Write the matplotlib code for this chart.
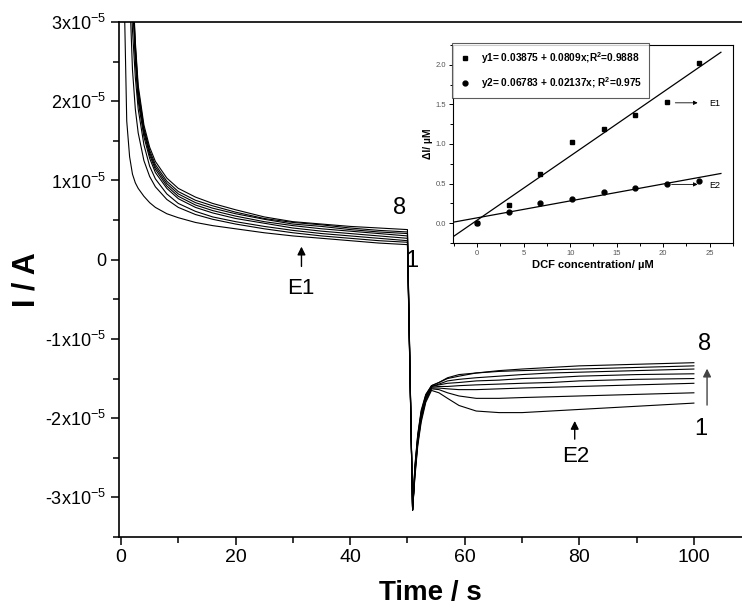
import matplotlib
matplotlib.use("Agg")
import matplotlib.pyplot as plt
from matplotlib.ticker import MultipleLocator, FuncFormatter, FixedLocator

plt.rcParams['font.family'] = ['Liberation Sans', 'DejaVu Sans']
plt.rcParams['mathtext.fontset'] = 'custom'
plt.rcParams['mathtext.rm'] = 'Liberation Sans'
plt.rcParams['axes.unicode_minus'] = False

# ---------------- main chronoamperograms (current in units of 1e-5 A) -------------
time_s = [0.3, 0.6, 1.0, 1.5, 2.0, 2.5, 3.0, 4.0, 5.0, 6.0, 8.0, 10.0, 13.0, 16.0,
          20.0, 25.0, 30.0, 35.0, 40.0, 45.0, 50.0,
          50.9, 51.3, 51.8, 52.4, 53.2, 54.2, 55.5, 57.0, 59.0, 62.0, 66.0, 70.0,
          75.0, 80.0, 85.0, 90.0, 95.0, 100.0]

curve_1 = [8.0, 3.2, 1.75, 1.3, 1.08, 0.97, 0.90, 0.80, 0.72, 0.66, 0.58, 0.53, 0.47, 0.43,
           0.39, 0.34, 0.30, 0.27, 0.24, 0.21, 0.19,
           -3.16, -2.75, -2.35, -2.05, -1.80, -1.65, -1.68, -1.75, -1.84, -1.91, -1.93, -1.93,
           -1.91, -1.89, -1.87, -1.85, -1.83, -1.81]
curve_2 = [20.0, 12.0, 5.5, 3.4, 2.4, 1.9, 1.6, 1.25, 1.05, 0.92, 0.76, 0.66, 0.57, 0.51,
           0.45, 0.39, 0.34, 0.30, 0.27, 0.24, 0.22,
           -3.16, -2.72, -2.32, -2.02, -1.78, -1.63, -1.64, -1.68, -1.72, -1.75, -1.75, -1.74,
           -1.73, -1.72, -1.71, -1.70, -1.69, -1.68]
curve_3 = [25.0, 15.0, 8.0, 4.0, 2.9, 2.3, 1.9, 1.45, 1.18, 1.02, 0.83, 0.71, 0.61, 0.54,
           0.48, 0.42, 0.37, 0.33, 0.30, 0.27, 0.24,
           -3.16, -2.70, -2.30, -2.00, -1.76, -1.62, -1.62, -1.63, -1.64, -1.64, -1.63, -1.62,
           -1.61, -1.60, -1.59, -1.58, -1.57, -1.56]
curve_4 = [30.0, 20.0, 12.0, 5.0, 3.3, 2.5, 2.0, 1.55, 1.28, 1.10, 0.90, 0.77, 0.66, 0.59,
           0.52, 0.46, 0.40, 0.36, 0.33, 0.30, 0.27,
           -3.16, -2.68, -2.28, -1.98, -1.74, -1.61, -1.60, -1.60, -1.59, -1.58, -1.57, -1.56,
           -1.55, -1.53, -1.52, -1.51, -1.505, -1.50]
curve_5 = [30.0, 20.0, 12.0, 5.2, 3.4, 2.6, 2.05, 1.60, 1.32, 1.14, 0.93, 0.80, 0.69, 0.62,
           0.55, 0.48, 0.43, 0.39, 0.36, 0.33, 0.30,
           -3.16, -2.66, -2.26, -1.96, -1.73, -1.60, -1.58, -1.56, -1.55, -1.53, -1.52, -1.50,
           -1.49, -1.47, -1.46, -1.45, -1.445, -1.44]
curve_6 = [30.0, 20.0, 12.0, 5.3, 3.45, 2.65, 2.1, 1.63, 1.35, 1.17, 0.96, 0.83, 0.72, 0.65,
           0.58, 0.51, 0.45, 0.42, 0.38, 0.35, 0.33,
           -3.16, -2.64, -2.24, -1.94, -1.72, -1.60, -1.57, -1.53, -1.51, -1.49, -1.47, -1.45,
           -1.43, -1.42, -1.41, -1.40, -1.39, -1.38]
curve_7 = [30.0, 20.0, 12.0, 5.4, 3.5, 2.7, 2.15, 1.66, 1.38, 1.20, 0.99, 0.86, 0.75, 0.68,
           0.60, 0.52, 0.47, 0.44, 0.40, 0.37, 0.35,
           -3.16, -2.62, -2.22, -1.92, -1.71, -1.59, -1.55, -1.49, -1.45, -1.43, -1.41, -1.40,
           -1.39, -1.38, -1.37, -1.36, -1.35, -1.34]
curve_8 = [30.0, 20.0, 12.0, 5.5, 3.55, 2.75, 2.2, 1.70, 1.42, 1.24, 1.03, 0.90, 0.79, 0.71,
           0.63, 0.54, 0.48, 0.45, 0.42, 0.40, 0.38,
           -3.16, -2.60, -2.20, -1.90, -1.70, -1.59, -1.55, -1.50, -1.47, -1.43, -1.40, -1.38,
           -1.36, -1.34, -1.33, -1.32, -1.31, -1.30]
curves = [curve_1, curve_2, curve_3, curve_4, curve_5, curve_6, curve_7, curve_8]

y_tick_values = [-3, -2, -1, 0, 1, 2, 3]
x_tick_values = [0, 20, 40, 60, 80, 100]

# ---------------- inset calibration data -------------
conc_uM = [0.0, 3.4, 6.8, 10.2, 13.6, 17.0, 20.4, 23.8]
dI_E1 = [0.0, 0.23, 0.62, 1.03, 1.19, 1.37, 1.53, 2.02]
dI_E2 = [0.0, 0.14, 0.25, 0.31, 0.39, 0.44, 0.49, 0.53]
fit_E1 = (0.03875, 0.0809)
fit_E2 = (0.06783, 0.02137)
fit_x_range = [-2.6, 26.2]
label_E1 = 'y1= 0.03875 + 0.0809x;R$^\\mathregular{2}$=0.9888'
label_E2 = 'y2= 0.06783 + 0.02137x; R$^\\mathregular{2}$=0.975'

W, H = 742, 611
fig = plt.figure(figsize=(W / 100, H / 100), dpi=100)
ax = fig.add_axes([119 / W, 1 - 537 / H, 1 - 119 / W, (537 - 22) / H])

for c in curves:
    ax.plot(time_s, c, color='black', lw=0.8, clip_on=True)

ax.set_xlim(-0.35, 108.4)
ax.set_ylim(-3.5, 3.0)
ax.spines['right'].set_visible(False)
for s in ['left', 'bottom', 'top']:
    ax.spines[s].set_linewidth(1.2)

ax.xaxis.set_major_locator(FixedLocator(x_tick_values))
ax.xaxis.set_minor_locator(MultipleLocator(10))
ax.yaxis.set_major_locator(FixedLocator(y_tick_values))
ax.yaxis.set_minor_locator(MultipleLocator(0.5))


def yfmt(v, pos):
    iv = int(round(v))
    if iv == 0:
        return '0'
    return '%dx10$^{\\mathregular{-5}}$' % iv


ax.yaxis.set_major_formatter(FuncFormatter(yfmt))
ax.tick_params(which='major', direction='out', length=6, width=1.1, labelsize=13, pad=3)
ax.tick_params(which='minor', direction='out', length=4, width=1.1)
ax.tick_params(axis='x', which='both', top=False)
ax.tick_params(axis='x', labelsize=14)

ax.set_xlabel('Time / s', fontsize=20, fontweight='bold', labelpad=10)
ax.set_ylabel('I / A', fontsize=22, fontweight='bold')
ax.yaxis.set_label_coords(-0.125, 0.5)

# annotations
ax.text(48.7, 0.65, '8', fontsize=17, ha='center', va='center')
ax.text(49.6, -0.02, '1', fontsize=17, ha='left', va='center')
ax.annotate('', xy=(31.5, 0.2), xytext=(31.5, -0.12),
            arrowprops=dict(arrowstyle='-|>', color='black', lw=1, mutation_scale=12))
ax.text(31.4, -0.36, 'E1', fontsize=16, ha='center', va='center')
ax.annotate('', xy=(79.2, -2.0), xytext=(79.2, -2.3),
            arrowprops=dict(arrowstyle='-|>', color='black', lw=1, mutation_scale=12))
ax.text(79.3, -2.48, 'E2', fontsize=16, ha='center', va='center')
ax.annotate('', xy=(102.3, -1.34), xytext=(102.3, -1.87),
            arrowprops=dict(arrowstyle='-|>', color='#444444', lw=1, mutation_scale=12))
ax.text(101.8, -1.06, '8', fontsize=17, ha='center', va='center')
ax.text(101.2, -2.14, '1', fontsize=17, ha='center', va='center')

# ---------------- inset -------------
ins = fig.add_axes([453 / W, 1 - 243 / H, (733 - 453) / W, (243 - 45) / H])
ins.plot(conc_uM, dI_E1, 's', color='black', ms=3.5, label=label_E1)
ins.plot(conc_uM, dI_E2, 'o', color='black', ms=3.5, label=label_E2)
ins.plot(fit_x_range, [fit_E1[0] + fit_E1[1] * x for x in fit_x_range], color='black', lw=0.9)
ins.plot(fit_x_range, [fit_E2[0] + fit_E2[1] * x for x in fit_x_range], color='black', lw=0.9)
ins.set_xlim(-2.6, 27.5)
ins.set_ylim(-0.25, 2.25)
ins.xaxis.set_major_locator(MultipleLocator(5))
ins.xaxis.set_minor_locator(MultipleLocator(2.5))
ins.yaxis.set_major_locator(MultipleLocator(0.5))
ins.yaxis.set_minor_locator(MultipleLocator(0.25))
ins.yaxis.set_major_formatter(FuncFormatter(lambda v, p: '%.1f' % v))
ins.tick_params(which='major', direction='out', length=3, width=0.7, labelsize=5.5,
                labelcolor='#555555', pad=2)
ins.tick_params(which='minor', direction='out', length=2, width=0.7)
for s in ins.spines.values():
    s.set_linewidth(0.8)
ins.set_xlabel('DCF concentration/ µM', fontsize=8, fontweight='bold', labelpad=2)
ins.set_ylabel('ΔI/ µM', fontsize=7.5, fontweight='bold', labelpad=2)
leg = ins.legend(loc='upper left', bbox_to_anchor=(-0.005, 1.01), borderaxespad=0,
                 prop={'weight': 'bold', 'size': 7.3}, frameon=True,
                 fancybox=False, edgecolor='#333333', handlelength=1.2, handletextpad=1.0,
                 borderpad=0.7, labelspacing=0.9)
leg.get_frame().set_linewidth(0.8)
ins.annotate('', xy=(24.0, 1.52), xytext=(21.0, 1.52),
             arrowprops=dict(arrowstyle='-|>', color='black', lw=0.6, mutation_scale=6))
ins.text(24.9, 1.51, 'E1', fontsize=6.5, ha='left', va='center')
ins.annotate('', xy=(24.0, 0.49), xytext=(20.6, 0.49),
             arrowprops=dict(arrowstyle='-|>', color='black', lw=0.6, mutation_scale=6))
ins.text(24.9, 0.47, 'E2', fontsize=6.5, ha='left', va='center')

fig.savefig('out.png', dpi=100)
